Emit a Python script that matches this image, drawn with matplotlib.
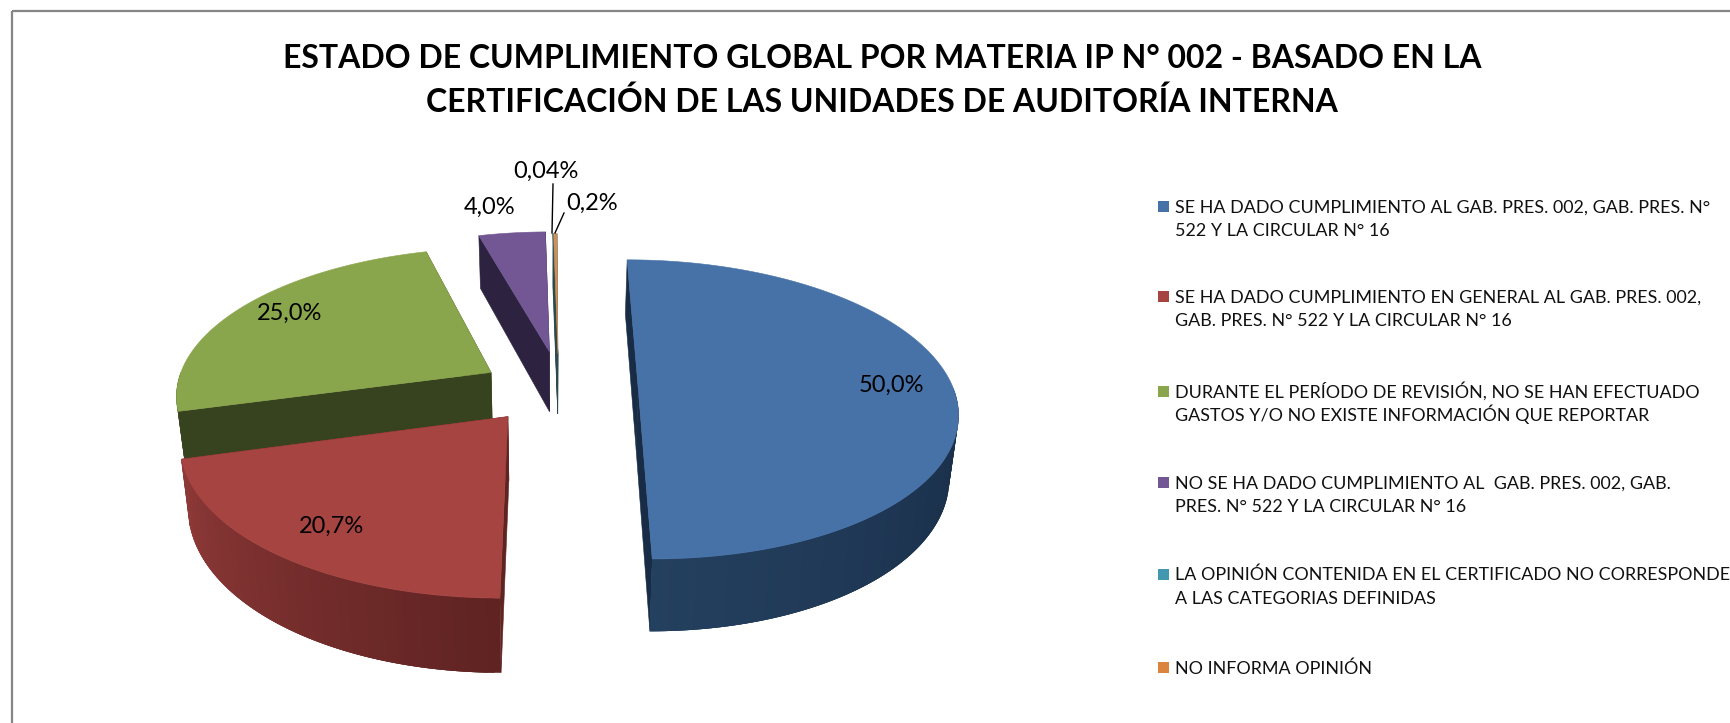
from matplotlib import pyplot as plt
from matplotlib.patches import Rectangle
import matplotlib.colors as mcolors
import numpy as np

plt.rcParams['font.family'] = ['Lato', 'DejaVu Sans']

# Data
title = "ESTADO DE CUMPLIMIENTO GLOBAL POR MATERIA IP N° 002 - BASADO EN LA\nCERTIFICACIÓN DE LAS UNIDADES DE AUDITORÍA INTERNA"
categories = [
    "SE HA DADO CUMPLIMIENTO AL GAB. PRES. 002, GAB. PRES. N°\n522 Y LA CIRCULAR N° 16",
    "SE HA DADO CUMPLIMIENTO EN GENERAL AL GAB. PRES. 002,\nGAB. PRES. N° 522 Y LA CIRCULAR N° 16",
    "DURANTE EL PERÍODO DE REVISIÓN, NO SE HAN EFECTUADO\nGASTOS Y/O NO EXISTE INFORMACIÓN QUE REPORTAR",
    "NO SE HA DADO CUMPLIMIENTO AL  GAB. PRES. 002, GAB.\nPRES. N° 522 Y LA CIRCULAR N° 16",
    "LA OPINIÓN CONTENIDA EN EL CERTIFICADO NO CORRESPONDE\nA LAS CATEGORIAS DEFINIDAS",
    "NO INFORMA OPINIÓN",
]
values = [50.0, 20.7, 25.0, 4.0, 0.04, 0.2]
value_labels = ["50,0%", "20,7%", "25,0%", "4,0%", "0,04%", "0,2%"]

# Style
face_colors = ['#4672A8', '#A64441', '#8AA64C', '#725794', '#4198AF', '#CF8F58']
wall_dark = ['#182C46', '#5F2322', '#37431E', '#2D2340', '#1F4A55', '#2F4A4A']
wall_light = ['#24405F', '#8F3A38', '#37431E', '#2D2340', '#1F4A55', '#2F4A4A']
explode_x = [0.28, -0.13, -0.19, -0.002, 0.026, 0.026]
explode_v = [0.0, 0.19, -0.108, -0.257, -0.24, -0.24]
draw_order = [3, 4, 5, 2, 1, 0]

# Projection of the tilted pie, in pixels
CX, CY = 550, 388
RX, RY = 315, 146.5
PERSP = 0.143
DEPTH = 62
SHRINK = 0.977


def project(x, v, bottom=False):
    w = 1 / (1 - PERSP * v)
    px = CX + RX * x * w
    py = CY + RY * v * w
    if bottom:
        px = CX + (px - CX) * SHRINK
        py = py + DEPTH * w
    return px, py


def wedge_outline(t0, t1, i):
    t = np.radians(np.linspace(t0, t1, max(int(t1 - t0) * 2, 2)))
    x = np.sin(t) + explode_x[i]
    v = -np.cos(t) + explode_v[i]
    return x, v


fig = plt.figure(figsize=(17.3, 7.23), dpi=100)
ax = fig.add_axes([0, 0, 1, 1])
ax.set_xlim(0, 1730)
ax.set_ylim(723, 0)
ax.axis('off')

# outer frame of the chart area
ax.add_patch(Rectangle((12, 10.5), 2000, 2000, fc='none', ec='#868686', lw=1.6))

edges = np.concatenate([[0], np.cumsum(values)]) / np.sum(values) * 360

for i in draw_order:
    t0, t1 = edges[i], edges[i + 1]
    apex = (explode_x[i], explode_v[i])

    # flat cut walls
    for t in (t0, t1):
        rad = np.radians(t)
        xs = np.linspace(apex[0], apex[0] + np.sin(rad), 20)
        vs = np.linspace(apex[1], apex[1] - np.cos(rad), 20)
        tx, ty = project(xs, vs)
        bx, by = project(xs, vs, bottom=True)
        ax.fill(np.r_[tx, bx[::-1]], np.r_[ty, by[::-1]], fc=wall_dark[i], ec=wall_dark[i], lw=0.4)

    # round wall, only the part facing the viewer
    a, b = max(t0, 90), min(t1, 270)
    if b > a:
        steps = np.linspace(a, b, max(int(b - a), 2) + 1)
        dark = np.array(mcolors.to_rgb(wall_dark[i]))
        light = np.array(mcolors.to_rgb(wall_light[i]))
        for k in range(len(steps) - 1):
            # each strip runs over the next one so no seams show
            x, v = wedge_outline(steps[k], steps[min(k + 3, len(steps) - 1)], i)
            tx, ty = project(x, v)
            bx, by = project(x, v, bottom=True)
            frac = k / max(len(steps) - 2, 1)
            col = dark + (light - dark) * frac
            ax.fill(np.r_[tx, bx[::-1]], np.r_[ty, by[::-1]], fc=col, ec='none')

    # top face
    x, v = wedge_outline(t0, t1, i)
    px, py = project(np.r_[apex[0], x], np.r_[apex[1], v])
    ax.fill(px, py, fc=face_colors[i], ec=face_colors[i], lw=0.4)

# value labels
label_pos = [(891, 385), (331, 526), (290, 313), (490, 207), (546, 171), (592, 203)]
for lab, (lx, ly) in zip(value_labels, label_pos):
    ax.text(lx, ly, lab, fontsize=17, ha='center', va='center', color='black')

# leader lines for the two smallest slices
ax.plot([553, 552], [184, 233], color='black', lw=1.0)
ax.plot([564, 555], [213, 233], color='black', lw=1.0)

# title, one text per line so the accents do not move the spacing
for line, ty in zip(title.split("\n"), [68.5, 111.5]):
    ax.text(882, ty, line, fontsize=23, fontweight='bold', ha='center', va='baseline', color='black')

# legend
legend_y = [206, 296, 391, 482, 574, 667]
for i, (cat, ly) in enumerate(zip(categories, legend_y)):
    ax.add_patch(Rectangle((1158, ly - 5.5), 11, 11, fc=face_colors[i] if i != 5 else '#DB843D', ec='none'))
    for n, line in enumerate(cat.split("\n")):
        ax.text(1175, ly + 6.5 + n * 24, line, fontsize=12.85, ha='left', va='baseline',
                color='#111111', clip_on=True)

fig.savefig('out.png', dpi=100)
